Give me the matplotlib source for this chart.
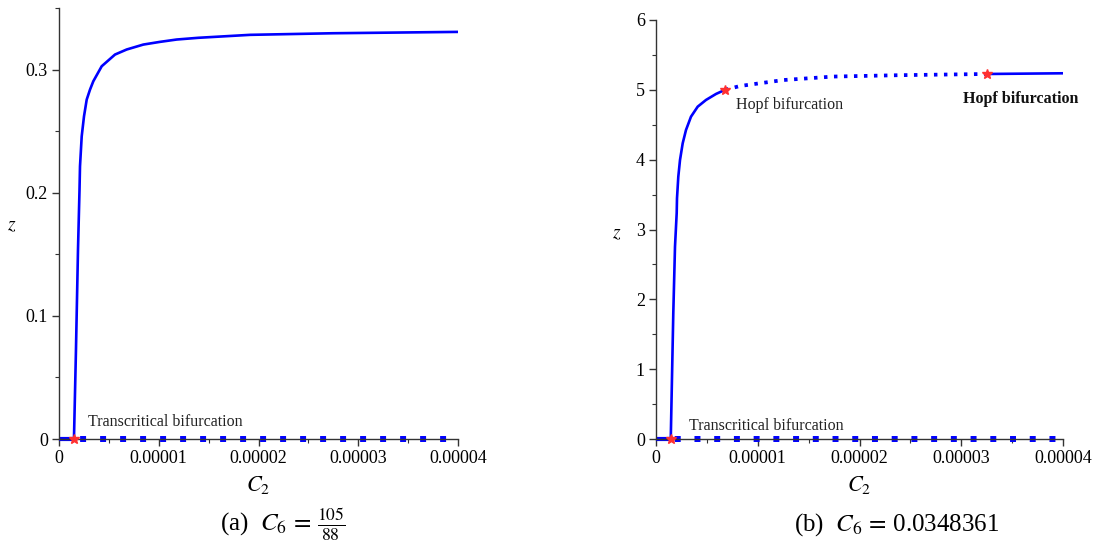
import numpy as np
import matplotlib
matplotlib.use("Agg")
import matplotlib.pyplot as plt
from matplotlib.ticker import MultipleLocator

plt.rcParams['font.family'] = ['Liberation Serif', 'DejaVu Serif']
plt.rcParams['mathtext.fontset'] = 'stix'
plt.rcParams['lines.scale_dashes'] = False

# ---- panel (a): C6 = 105/88 -------------------------------------------------
c2_a = [1.50e-6, 1.70e-6, 1.905e-6, 2.055e-6, 2.105e-6, 2.276e-6, 2.506e-6,
        2.777e-6, 3.108e-6, 3.439e-6, 4.281e-6, 5.614e-6, 6.787e-6, 8.451e-6,
        1.0125e-5, 1.18e-5, 1.3965e-5, 1.915e-5, 2.747e-5, 4.0e-5]
z_a = [0.0, 0.072, 0.154, 0.202, 0.2214, 0.2458, 0.2620,
       0.2756, 0.2837, 0.2905, 0.3027, 0.3122, 0.3163, 0.3203,
       0.3225, 0.3244, 0.3258, 0.3282, 0.3295, 0.3306]
tc_a = 1.50e-6

# ---- panel (b): C6 = 0.0348361 ----------------------------------------------
c2_b_stable1 = [1.45e-6, 1.70e-6, 1.867e-6, 2.034e-6, 2.064e-6, 2.192e-6,
                2.359e-6, 2.624e-6, 2.948e-6, 3.44e-6, 4.098e-6, 4.914e-6,
                5.897e-6, 6.78e-6]
z_b_stable1 = [0.0, 1.804, 2.754, 3.236, 3.447, 3.756,
               3.995, 4.235, 4.425, 4.616, 4.759, 4.855,
               4.941, 5.00]
c2_b_unstable = [6.78e-6, 8.26e-6, 1.25e-5, 1.74e-5, 2.40e-5, 3.25e-5]
z_b_unstable = [5.00, 5.055, 5.14, 5.19, 5.21, 5.227]
c2_b_stable2 = [3.25e-5, 4.0e-5]
z_b_stable2 = [5.227, 5.237]
tc_b = 1.45e-6
hopf_b = [(6.78e-6, 5.00), (3.25e-5, 5.227)]

x_max = 4e-5
xticks = [0, 1e-5, 2e-5, 3e-5, 4e-5]
xticklabels = ['0', '0.00001', '0.00002', '0.00003', '0.00004']

W, H = 1099, 555
fig = plt.figure(figsize=(W / 100, H / 100), dpi=100)
ax1 = fig.add_axes([59 / W, 116 / H, 399 / W, 431 / H])
ax2 = fig.add_axes([656 / W, 116 / H, 407 / W, 419 / H])

blue = '#0000ff'
sq = dict(color=blue, lw=4.3, clip_on=False, zorder=2, solid_capstyle='butt')


def style(ax, ymax, ymajor, yminor, yticklabels, h_px):
    for s in ['top', 'right']:
        ax.spines[s].set_visible(False)
    for s in ['left', 'bottom']:
        ax.spines[s].set_color('#333333')
        ax.spines[s].set_linewidth(1.0)
        ax.spines[s].set_zorder(5)
    ax.set_xlim(0, x_max)
    ax.set_ylim(0, ymax)
    ax.set_xticks(xticks)
    ax.set_xticklabels(xticklabels)
    ax.xaxis.set_minor_locator(MultipleLocator(5e-6))
    ax.set_yticks(np.arange(len(yticklabels)) * ymajor)
    ax.set_yticklabels(yticklabels)
    ax.yaxis.set_minor_locator(MultipleLocator(yminor))
    ax.tick_params(which='major', length=5, width=1.0, labelsize=13,
                   color='#333333', pad=3)
    ax.tick_params(which='minor', length=3, width=0.8, color='#333333')
    ax.set_xlabel(r'$C_2$', fontsize=16, va='center')
    ax.xaxis.set_label_coords(0.5, -46 / h_px)
    ax.set_ylabel(r'$z$', fontsize=14, rotation=0, va='center', ha='center')


# panel (a)
ax1.plot([0, tc_a], [0, 0], color=blue, lw=3, clip_on=False, solid_capstyle='butt')
ax1.plot([tc_a, x_max], [0, 0], linestyle=(10.0, (4.3, 10.1)), **sq)
ax1.plot(c2_a, z_a, color=blue, lw=1.9)
ax1.plot([tc_a], [0], marker='*', color='#ff3030', ms=7, clip_on=False, zorder=6)
ax1.text(2.95e-6, 0.0075, 'Transcritical bifurcation', fontsize=11.5,
         color='#222222', va='bottom')
style(ax1, 0.35, 0.1, 0.05, ['0', '0.1', '0.2', '0.3'], 431)
ax1.yaxis.set_label_coords(-0.118, 0.494)

# panel (b)
ax2.plot([0, tc_b], [0, 0], color=blue, lw=3, clip_on=False, solid_capstyle='butt')
ax2.plot([tc_b, x_max], [0, 0], linestyle=(11.5, (4.3, 9.9)), **sq)
ax2.plot(c2_b_stable1, z_b_stable1, color=blue, lw=1.9)
ax2.plot(c2_b_unstable, z_b_unstable, color=blue, lw=2.7,
         linestyle=(0, (2.5, 4.7)))
ax2.plot(c2_b_stable2, z_b_stable2, color=blue, lw=1.9)
ax2.plot([tc_b], [0], marker='*', color='#ff3030', ms=7, clip_on=False, zorder=6)
for hx, hz in hopf_b:
    ax2.plot([hx], [hz], marker='*', color='#ff3030', ms=7, zorder=6)
ax2.text(3.25e-6, 0.07, 'Transcritical bifurcation', fontsize=11.5,
         color='#222222', va='bottom')
ax2.text(7.9e-6, 4.78, 'Hopf bifurcation', fontsize=11.5, color='#222222',
         va='center')
ax2.text(3.02e-5, 4.87, 'Hopf bifurcation', fontsize=11.5, color='#111111',
         va='center', fontweight='bold')
style(ax2, 6, 1, 0.5, ['0', '1', '2', '3', '4', '5', '6'], 419)
ax2.yaxis.set_label_coords(-0.096, 0.49)

# captions
fig.text(283 / W, 1 - 525 / H, r'(a)  $C_6\, =\, \frac{105}{88}$', fontsize=18,
         ha='center', va='center')
fig.text(897 / W, 1 - 525 / H, r'(b)  $C_6\, =\, $0.0348361', fontsize=18,
         ha='center', va='center')

fig.savefig('out.png', dpi=100)
